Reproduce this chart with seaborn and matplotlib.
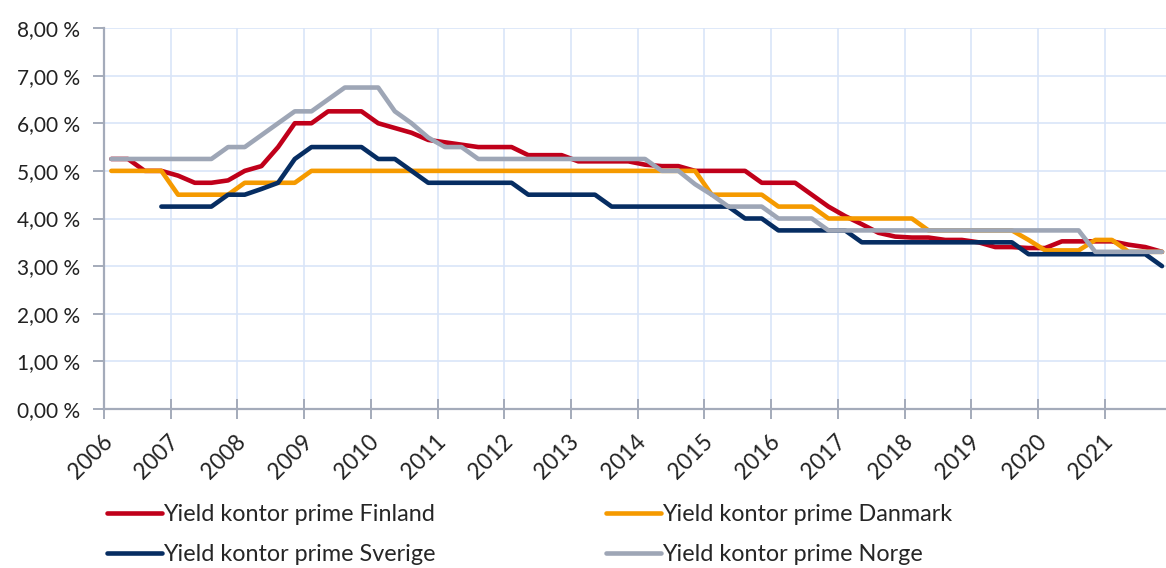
import numpy as np
import pandas as pd
import seaborn as sns
import matplotlib.pyplot as plt
from matplotlib.ticker import FuncFormatter
from matplotlib.transforms import ScaledTranslation

sns.set_theme(style="white")
plt.rcParams['font.family'] = ['Lato', 'DejaVu Sans']

# quarterly observations, the first one early in 2006
first_obs = 2006.11
n_obs = 64

finland = [5.25, 5.25, 5.00, 5.00, 4.90, 4.75, 4.75, 4.80, 5.00, 5.10,
           5.50, 6.00, 6.00, 6.25, 6.25, 6.25, 6.00, 5.90, 5.80, 5.65,
           5.60, 5.55, 5.50, 5.50, 5.50, 5.33, 5.33, 5.33, 5.20, 5.20,
           5.20, 5.20, 5.13, 5.10, 5.10, 5.00, 5.00, 5.00, 5.00, 4.75,
           4.75, 4.75, 4.50, 4.25, 4.05, 3.88, 3.70, 3.62, 3.60, 3.60,
           3.55, 3.55, 3.50, 3.40, 3.40, 3.38, 3.38, 3.52, 3.52, 3.52,
           3.52, 3.45, 3.40, 3.30]
danmark = ([5.00] * 4 + [4.50] * 4 + [4.75] * 4 + [5.00] * 24 + [4.50] * 4
           + [4.25] * 3 + [4.00] * 6 + [3.75] * 6 + [3.55] + [3.33] * 3
           + [3.55] * 2 + [3.30] * 3)
sverige = ([np.nan] * 3 + [4.25] * 4 + [4.50] * 2 + [4.62, 4.75, 5.25]
           + [5.50] * 4 + [5.25] * 2 + [5.00] + [4.75] * 6 + [4.50] * 5
           + [4.25] * 8 + [4.00] * 2 + [3.75] * 5 + [3.50] * 10
           + [3.25] * 8 + [3.00])
norge = ([5.25] * 7 + [5.50] * 2 + [5.75, 6.00] + [6.25] * 2 + [6.50]
         + [6.75] * 3 + [6.25, 6.00, 5.70] + [5.50] * 2 + [5.25] * 11
         + [5.00] * 2 + [4.72, 4.50] + [4.25] * 3 + [4.00] * 3
         + [3.75] * 16 + [3.30] * 5)

names = ["Yield kontor prime Finland", "Yield kontor prime Danmark",
         "Yield kontor prime Sverige", "Yield kontor prime Norge"]
colors = ["#C0001A", "#F59A00", "#062D62", "#9EA6B6"]
years = list(range(2006, 2022))

x = first_obs + np.arange(n_obs) / 4
frames = []
for name, vals in zip(names, [finland, danmark, sverige, norge]):
    frames.append(pd.DataFrame({"x": x, "yield": vals, "serie": name}))
df = pd.concat(frames, ignore_index=True)

fig = plt.figure(figsize=(11.66, 5.68), dpi=100)
ax = fig.add_axes([104 / 1166, 1 - 409 / 568, 1 - 104 / 1166, 381 / 568])

sns.lineplot(data=df, x="x", y="yield", hue="serie", hue_order=names,
             palette=colors, linewidth=3.3, ax=ax, legend=True)

ax.set_xlim(2006, first_obs + 63.2 / 4 + 0.01)
ax.set_ylim(0, 8)
ax.set_xticks(years)
ax.set_yticks(range(0, 9))
ax.yaxis.set_major_formatter(FuncFormatter(lambda v, p: f"{v:.2f} %".replace(".", ",")))
ax.set_xlabel("")
ax.set_ylabel("")

ax.grid(True, color="#D9E5F8", linewidth=1.2)
ax.set_axisbelow(True)
for s in ["top", "right"]:
    ax.spines[s].set_visible(False)
for s in ["left", "bottom"]:
    ax.spines[s].set_color("#A4ABBA")
    ax.spines[s].set_linewidth(1.6)

ax.tick_params(axis="y", direction="out", length=8, width=1.4, color="#A4ABBA",
               pad=9, labelsize=15, labelcolor="#222222", left=True)
ax.tick_params(axis="x", direction="inout", length=14, width=1.4, color="#A4ABBA",
               pad=14, labelsize=16.3, labelcolor="#222222", bottom=True)
shift = ScaledTranslation(5 / 100, 0, fig.dpi_scale_trans)
for lab in ax.get_xticklabels():
    lab.set_rotation(45)
    lab.set_ha("right")
    lab.set_va("center")
    lab.set_rotation_mode("anchor")
    lab.set_transform(lab.get_transform() + shift)

handles, labels = ax.get_legend_handles_labels()
order = [0, 2, 1, 3]
ax.get_legend().remove()
fig.legend([handles[i] for i in order], [labels[i] for i in order],
           ncol=2, loc="upper left", bbox_to_anchor=(107 / 1166, 1 - 504 / 568),
           frameon=False, fontsize=16.8, handlelength=2.36, handletextpad=0.05,
           columnspacing=7.3, labelspacing=0.8, borderpad=0, borderaxespad=0)

fig.savefig("out.png", dpi=100)
